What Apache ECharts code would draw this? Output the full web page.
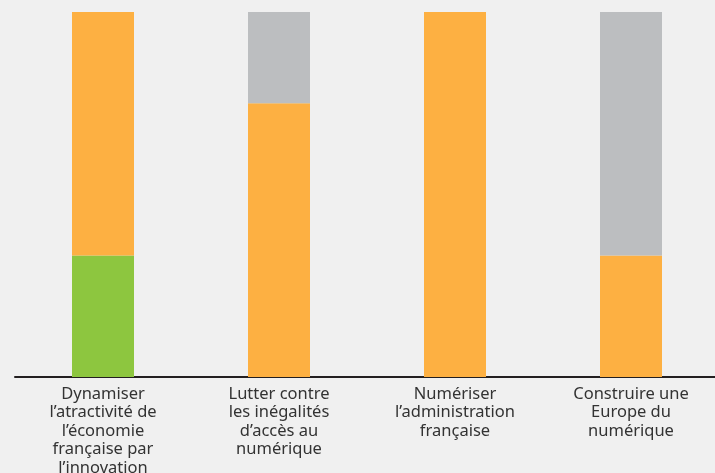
<!DOCTYPE html>
<html>
<head>
<meta charset="utf-8">
<script src="https://cdn.jsdelivr.net/npm/echarts@6/dist/echarts.min.js"></script>
<style>
  html, body { margin: 0; padding: 0; background: #f0f0f0; }
  #chart { width: 715px; height: 473px; }
</style>
</head>
<body>
<div id="chart"></div>
<script>
// Priorités numériques : part de chaque statut par axe (en %)
const categories = [
  "Dynamiser\nl’atractivité de\nl’économie\nfrançaise par\nl’innovation",
  "Lutter contre\nles inégalités\nd’accès au\nnumérique",
  "Numériser\nl’administration\nfrançaise",
  "Construire une\nEurope du\nnumérique"
];
const greenValues = [33.3, 0, 0, 0];
const orangeValues = [66.7, 75, 100, 33.3];
const greyValues = [0, 25, 0, 66.7];

const chart = echarts.init(document.getElementById('chart'), null, { renderer: 'canvas' });

function barSeries(name, data, color) {
  return {
    name: name,
    type: 'bar',
    stack: 'total',
    data: data,
    barWidth: 62,
    itemStyle: { color: color },
    emphasis: { disabled: true }
  };
}

chart.setOption({
  backgroundColor: '#f0f0f0',
  animation: false,
  grid: {
    left: 15, right: -4, top: 12, bottom: 96,
    containLabel: false,
    outerBoundsMode: 'none'
  },
  xAxis: {
    type: 'category',
    data: categories,
    axisLine: { show: true, lineStyle: { color: '#231f20', width: 2 } },
    axisTick: { show: false },
    axisLabel: {
      interval: 0,
      margin: 8,
      color: '#333333',
      fontFamily: 'Noto Sans',
      fontSize: 16.5,
      lineHeight: 18.5
    }
  },
  yAxis: {
    type: 'value',
    min: 0,
    max: 100,
    show: false,
    splitLine: { show: false }
  },
  series: [
    barSeries('Vert', greenValues, '#8dc63f'),
    barSeries('Orange', orangeValues, '#fdb042'),
    barSeries('Gris', greyValues, '#bcbec0')
  ]
});
</script>
</body>
</html>
